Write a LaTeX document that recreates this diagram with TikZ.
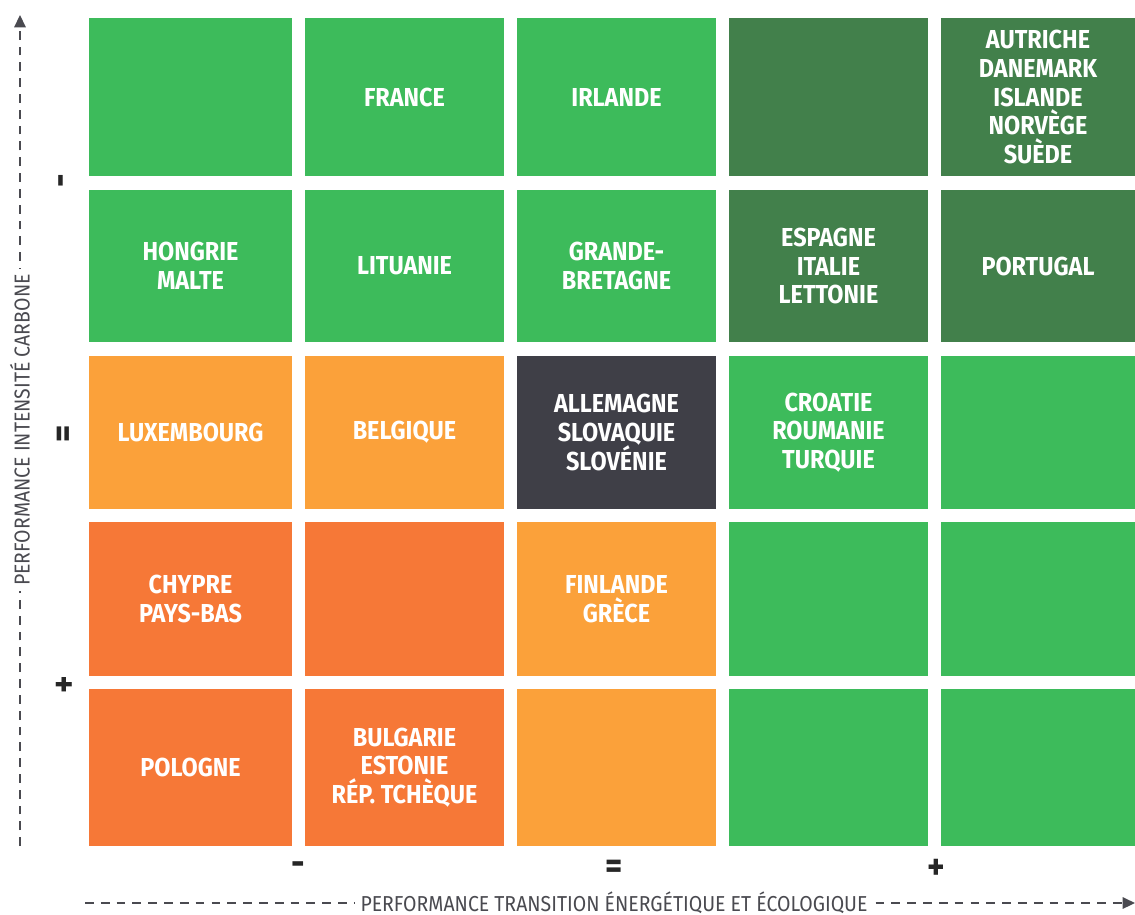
\documentclass[tikz,border=0pt]{standalone}
\usepackage{fontspec}
\usepackage{xcolor}
\usepackage{tikz}
\usetikzlibrary{arrows.meta}
\newfontfamily\cellfont[FakeStretch=0.9]{Fira Sans}
\definecolor{vert}{HTML}{3DBB5B}
\definecolor{vertfonce}{HTML}{42804B}
\definecolor{orangeclair}{HTML}{FBA13A}
\definecolor{orangefonce}{HTML}{F67837}
\definecolor{gris}{HTML}{3F3F47}
\definecolor{axe}{HTML}{4A4A50}
\tikzset{
  cell/.style={rectangle,inner sep=0pt,minimum width=3.98cm,minimum height=3.08cm,
    text=white,align=center,font=\cellfont\bfseries\fontsize{14.8}{16.4}\selectfont},
  marque/.style={text=black!85,font=\cellfont\bfseries\fontsize{21}{21}\selectfont},
  axelabel/.style={fill=white,text=axe,inner xsep=3pt,inner ysep=0pt,font=\cellfont\fontsize{12.3}{13}\selectfont},
  axeline/.style={axe,line width=0.9pt,dash pattern=on 5pt off 4pt,-{Triangle[length=7pt,width=6.5pt]}}
}
\begin{document}
\begin{tikzpicture}[x=0.02cm,y=-0.02cm]
\useasboundingbox (0,0) rectangle (1135,914);

\node[cell,fill=vert,minimum width=4.06cm,minimum height=3.16cm] (a1) at (190.5,97) {};
\node[cell,fill=vert,minimum height=3.16cm] (a2) at (404.5,97) {FRANCE};
\node[cell,fill=vert,minimum height=3.16cm] (a3) at (616.5,97) {IRLANDE};
\node[cell,fill=vertfonce,minimum height=3.16cm] (a4) at (828.5,97) {};
\node[cell,fill=vertfonce,minimum width=3.88cm,minimum height=3.16cm] (a5) at (1038,97)
  {AUTRICHE\\DANEMARK\\ISLANDE\\NORVÈGE\\SUÈDE};

\node[cell,fill=vert,minimum width=4.06cm,minimum height=3.04cm] (b1) at (190.5,266) {HONGRIE\\MALTE};
\node[cell,fill=vert,minimum height=3.04cm] (b2) at (404.5,266) {LITUANIE};
\node[cell,fill=vert,minimum height=3.04cm] (b3) at (616.5,266) {GRANDE-\\BRETAGNE};
\node[cell,fill=vertfonce,minimum height=3.04cm] (b4) at (828.5,266) {ESPAGNE\\ITALIE\\LETTONIE};
\node[cell,fill=vertfonce,minimum width=3.88cm,minimum height=3.04cm] (b5) at (1038,266) {PORTUGAL};

\node[cell,fill=orangeclair,minimum width=4.06cm,minimum height=3.06cm] (c1) at (190.5,432.5) {LUXEMBOURG};
\node[cell,fill=orangeclair,minimum height=3.06cm] (c2) at (404.5,432.5) {BELGIQUE};
\node[cell,fill=gris,minimum height=3.06cm] (c3) at (616.5,432.5) {ALLEMAGNE\\SLOVAQUIE\\SLOVÉNIE};
\node[cell,fill=vert,minimum height=3.06cm] (c4) at (828.5,432.5) {CROATIE\\ROUMANIE\\TURQUIE};
\node[cell,fill=vert,minimum width=3.88cm,minimum height=3.06cm] (c5) at (1038,432.5) {};

\node[cell,fill=orangefonce,minimum width=4.06cm] (d1) at (190.5,599) {CHYPRE\\PAYS-BAS};
\node[cell,fill=orangefonce] (d2) at (404.5,599) {};
\node[cell,fill=orangeclair] (d3) at (616.5,599) {FINLANDE\\GRÈCE};
\node[cell,fill=vert] (d4) at (828.5,599) {};
\node[cell,fill=vert,minimum width=3.88cm] (d5) at (1038,599) {};

\node[cell,fill=orangefonce,minimum width=4.06cm,minimum height=3.14cm] (e1) at (190.5,767.5) {POLOGNE};
\node[cell,fill=orangefonce,minimum height=3.14cm] (e2) at (404.5,767.5) {BULGARIE\\ESTONIE\\RÉP. TCHÈQUE};
\node[cell,fill=orangeclair,minimum height=3.14cm] (e3) at (616.5,767.5) {};
\node[cell,fill=vert,minimum height=3.14cm] (e4) at (828.5,767.5) {};
\node[cell,fill=vert,minimum width=3.88cm,minimum height=3.14cm] (e5) at (1038,767.5) {};

\node[marque,rotate=90] (ymoins) at (66,181) {-};
\node[marque,rotate=90] (yegal) at (66,434) {=};
\node[marque,rotate=90] (yplus) at (66,685) {+};
\node[marque] (xmoins) at (298,869) {-};
\node[marque] (xegal) at (614,869) {=};
\node[marque] (xplus) at (936,869) {+};

\coordinate (ydebut) at (20,846);
\coordinate (yfin) at (20,15);
\coordinate (xdebut) at (85,903);
\coordinate (xfin) at (1135,903);
\draw[axeline] (ydebut) -- (yfin);
\draw[axeline] (xdebut) -- (xfin);
\node[axelabel,rotate=90] (ylabel) at (20,430) {PERFORMANCE INTENSITÉ CARBONE};
\node[axelabel] (xlabel) at (614,903) {PERFORMANCE TRANSITION ÉNERGÉTIQUE ET ÉCOLOGIQUE};
\end{tikzpicture}
\end{document}
